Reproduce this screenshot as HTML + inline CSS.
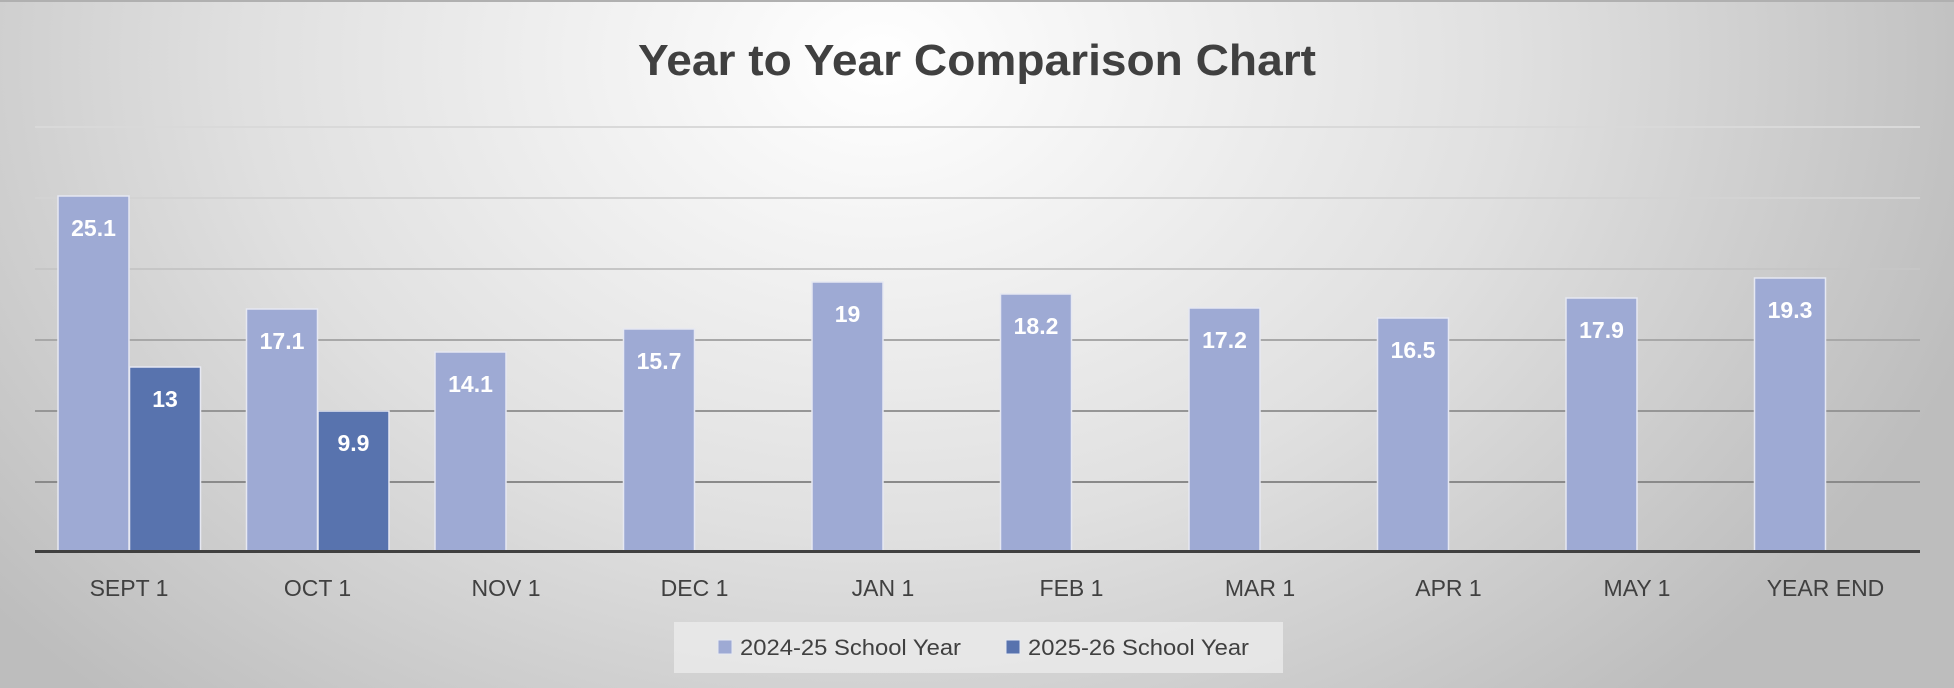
<!DOCTYPE html>
<html><head><meta charset="utf-8"><style>
html,body{margin:0;padding:0;width:1954px;height:688px;overflow:hidden;}
</style></head><body>
<svg width="1954" height="688" viewBox="0 0 1954 688" xmlns="http://www.w3.org/2000/svg" font-family="'Liberation Sans', sans-serif">
<defs>
<radialGradient id="bg" cx="880" cy="60" r="1150" gradientUnits="userSpaceOnUse" gradientTransform="translate(880 60) scale(1 0.75) translate(-880 -60)">
<stop offset="0" stop-color="#ffffff"/>
<stop offset="0.55" stop-color="#e0e0e0"/>
<stop offset="1" stop-color="#bdbdbd"/>
</radialGradient>
</defs>
<rect width="1954" height="688" fill="url(#bg)"/>
<rect x="0" y="0" width="1954" height="2" fill="#b0b0b0"/>
<text x="977" y="75" text-anchor="middle" font-size="44" font-weight="bold" fill="#404040" textLength="678" lengthAdjust="spacingAndGlyphs">Year to Year Comparison Chart</text>
<g stroke-width="2">
<line x1="35" x2="1920" y1="127" y2="127" stroke="#d9d9d9"/>
<line x1="35" x2="1920" y1="198" y2="198" stroke="#d3d3d3"/>
<line x1="35" x2="1920" y1="269" y2="269" stroke="#c6c6c6"/>
<line x1="35" x2="1920" y1="340" y2="340" stroke="#a8a8a8"/>
<line x1="35" x2="1920" y1="411" y2="411" stroke="#969696"/>
<line x1="35" x2="1920" y1="482" y2="482" stroke="#8a8a8a"/>
</g>
<g stroke="#e6e8f2" stroke-width="1.5">
<rect x="58" y="196" width="71" height="355" fill="#9eaad4"/>
<rect x="129.5" y="367" width="71" height="184" fill="#5873ae"/>
<rect x="246.5" y="309" width="71" height="242" fill="#9eaad4"/>
<rect x="318" y="411" width="71" height="140" fill="#5873ae"/>
<rect x="435" y="352" width="71" height="199" fill="#9eaad4"/>
<rect x="623.5" y="329" width="71" height="222" fill="#9eaad4"/>
<rect x="812" y="282" width="71" height="269" fill="#9eaad4"/>
<rect x="1000.5" y="294" width="71" height="257" fill="#9eaad4"/>
<rect x="1189" y="308" width="71" height="243" fill="#9eaad4"/>
<rect x="1377.5" y="318" width="71" height="233" fill="#9eaad4"/>
<rect x="1566" y="298" width="71" height="253" fill="#9eaad4"/>
<rect x="1754.5" y="278" width="71" height="273" fill="#9eaad4"/>
</g>
<line x1="35" x2="1920" y1="551.5" y2="551.5" stroke="#404040" stroke-width="3"/>
<g font-size="23" font-weight="bold" fill="#ffffff" text-anchor="middle">
<text x="93.5" y="236">25.1</text>
<text x="165" y="407">13</text>
<text x="282" y="349">17.1</text>
<text x="353.5" y="451">9.9</text>
<text x="470.5" y="392">14.1</text>
<text x="659" y="369">15.7</text>
<text x="847.5" y="322">19</text>
<text x="1036" y="334">18.2</text>
<text x="1224.5" y="348">17.2</text>
<text x="1413" y="358">16.5</text>
<text x="1601.5" y="338">17.9</text>
<text x="1790" y="318">19.3</text>
</g>
<g font-size="23" fill="#404040" text-anchor="middle">
<text x="129" y="596">SEPT 1</text>
<text x="317.5" y="596">OCT 1</text>
<text x="506" y="596">NOV 1</text>
<text x="694.5" y="596">DEC 1</text>
<text x="883" y="596">JAN 1</text>
<text x="1071.5" y="596">FEB 1</text>
<text x="1260" y="596">MAR 1</text>
<text x="1448.5" y="596">APR 1</text>
<text x="1637" y="596">MAY 1</text>
<text x="1825.5" y="596">YEAR END</text>
</g>
<rect x="674" y="622" width="609" height="51" fill="#ebebeb" opacity="0.8"/>
<rect x="718" y="640" width="14" height="14" fill="#9eaad4" stroke="#e6e8f2"/>
<text x="740" y="655" font-size="22" fill="#404040" textLength="221" lengthAdjust="spacingAndGlyphs">2024-25 School Year</text>
<rect x="1006" y="640" width="14" height="14" fill="#5873ae" stroke="#e6e8f2"/>
<text x="1028" y="655" font-size="22" fill="#404040" textLength="221" lengthAdjust="spacingAndGlyphs">2025-26 School Year</text>
</svg>
</body></html>
